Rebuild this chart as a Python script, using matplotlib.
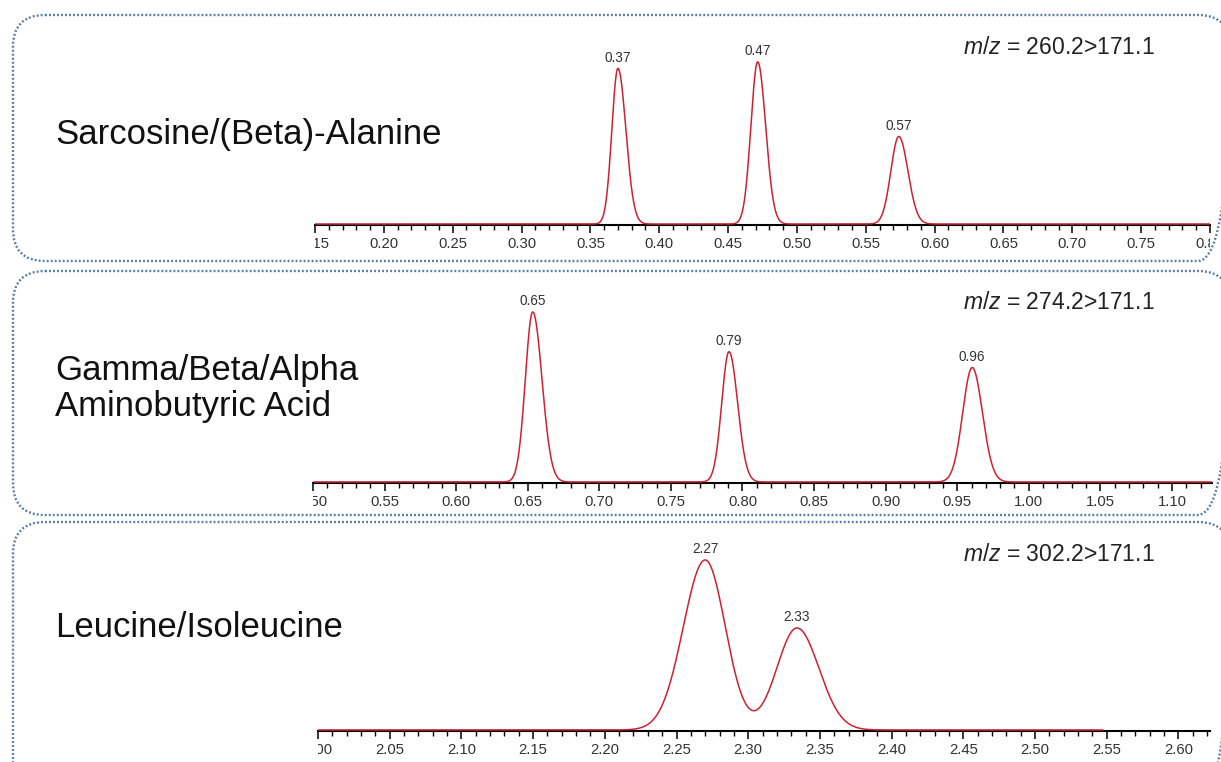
"""
Three MRM chromatograms (amino acid isomer groups) stacked in dotted
rounded panels, each with its own retention-time axis.
Output: out.png
"""

import numpy as np
import matplotlib.pyplot as plt
from matplotlib.patches import FancyBboxPatch
from matplotlib.ticker import MultipleLocator
from matplotlib.transforms import Bbox, TransformedBbox

plt.rcParams["font.family"] = ["Liberation Sans", "DejaVu Sans"]
plt.rcParams["mathtext.fontset"] = "custom"
plt.rcParams["mathtext.rm"] = "Liberation Sans"
plt.rcParams["mathtext.it"] = "Liberation Sans:italic"

W, H = 1221, 762

# ---- data ----
compounds   = ["Sarcosine/(Beta)-Alanine",
               "Gamma/Beta/Alpha\nAminobutyric Acid",
               "Leucine/Isoleucine"]
transitions = ["260.2>171.1", "274.2>171.1", "302.2>171.1"]
x_ranges    = [(0.15, 0.80), (0.50, 1.128), (2.00, 2.622)]
trace_end   = [0.80, 1.128, 2.547]

# retention time (min), relative height (%), half width at half max left/right (min)
rt_1       = [0.370, 0.4715, 0.574]
height_1   = [96, 100, 54]
hw_left_1  = [0.0052, 0.0058, 0.0068]
hw_right_1 = [0.0068, 0.0068, 0.0078]
labels_1   = ["0.37", "0.47", "0.57"]

rt_2       = [0.6535, 0.7906, 0.9605]
height_2   = [100, 76.6, 67.3]
hw_left_2  = [0.0061, 0.0060, 0.0078]
hw_right_2 = [0.0076, 0.0071, 0.0084]
labels_2   = ["0.65", "0.79", "0.96"]

rt_3       = [2.270, 2.334]
height_3   = [100, 60]
hw_left_3  = [0.0180, 0.0165]
hw_right_3 = [0.0165, 0.0180]
labels_3   = ["2.27", "2.33"]

peaks = [
    (rt_1, height_1, hw_left_1, hw_right_1, labels_1),
    (rt_2, height_2, hw_left_2, hw_right_2, labels_2),
    (rt_3, height_3, hw_left_3, hw_right_3, labels_3),
]

# ---- layout in pixels ----
box_top    = [15, 271, 522]
box_bottom = [261, 515, 800]
ax_left    = [315, 313, 318]
ax_right   = [1210, 1212, 1210]
ax_base    = [225, 483, 731]
ax_top     = [40, 290, 545]
ymax       = [113.5, 112.9, 108.8]
name_base  = [144, 380, 637]
mz_base    = [54, 309, 561]

TRACE = "#cc2232"
BOX = "#557aa3"


def peak_trace(x, rts, heights, hw_l, hw_r):
    y = np.zeros_like(x)
    for rt, h, l, r in zip(rts, heights, hw_l, hw_r):
        s = np.where(x < rt, l, r) / np.sqrt(2 * np.log(2))
        y += h * np.exp(-0.5 * ((x - rt) / s) ** 2)
    return y


fig = plt.figure(figsize=(W / 100, H / 100), dpi=100)

bg = fig.add_axes([0, 0, 1, 1], zorder=0)
bg.set_xlim(0, W)
bg.set_ylim(H, 0)
bg.axis("off")

for i in range(3):
    box = FancyBboxPatch((13, box_top[i]), 1230 - 13, box_bottom[i] - box_top[i],
                         boxstyle="round,pad=0,rounding_size=32",
                         fill=False, edgecolor=BOX, lw=1.7,
                         linestyle=(0, (0.8, 0.9)))
    bg.add_patch(box)

    for j, line in enumerate(compounds[i].split("\n")):
        bg.text(55, name_base[i] + j * 36, line, fontsize=25,
                color="#111111", va="baseline", ha="left")
    bg.text(963, mz_base[i], "$m/z$ = " + transitions[i], fontsize=16.5,
            color="#222222", va="baseline", ha="left")

    ax = fig.add_axes([ax_left[i] / W, (H - ax_base[i]) / H,
                       (ax_right[i] - ax_left[i]) / W,
                       (ax_base[i] - ax_top[i]) / H], zorder=1)
    ax.set_facecolor("none")

    x0, x1 = x_ranges[i]
    rts, hts, hl, hr, labs = peaks[i]
    x = np.linspace(x0, trace_end[i], 4000)
    y = peak_trace(x, rts, hts, hl, hr)
    ax.plot(x, y, color=TRACE, lw=1.1, zorder=3)

    for rt, lab, l, r in zip(rts, labs, hl, hr):
        win = (x > rt - l) & (x < rt + r)
        k = np.argmax(y[win])
        ax.annotate(lab, (x[win][k], y[win][k]), xytext=(0, 2.5),
                    textcoords="offset points", ha="center", va="bottom",
                    fontsize=9.8, color="#333333")

    ax.set_xlim(x0, x1)
    ax.set_ylim(-0.6, ymax[i])
    for side in ["top", "right", "left"]:
        ax.spines[side].set_visible(False)
    ax.spines["bottom"].set_linewidth(1.5)
    ax.spines["bottom"].set_color("black")
    ax.set_yticks([])

    major = np.arange(np.ceil(x0 / 0.05 - 1e-6) * 0.05, x1 + 1e-6, 0.05)
    ax.set_xticks(major)
    ax.set_xticklabels([f"{v:.2f}" for v in major])
    ax.xaxis.set_minor_locator(MultipleLocator(0.01))
    ax.tick_params(axis="x", which="major", length=5.8, width=1.1,
                   direction="out", pad=2.5, labelsize=10.7,
                   labelcolor="#333333")
    ax.tick_params(axis="x", which="minor", length=3.4, width=1.0,
                   direction="out")

    # the reference crops the end labels at the axis ends
    clip = TransformedBbox(Bbox([[0, -2], [1, 1]]), ax.transAxes)
    for lbl in ax.get_xticklabels():
        lbl.set_clip_box(clip)
        lbl.set_clip_on(True)

fig.savefig("out.png", dpi=100)
